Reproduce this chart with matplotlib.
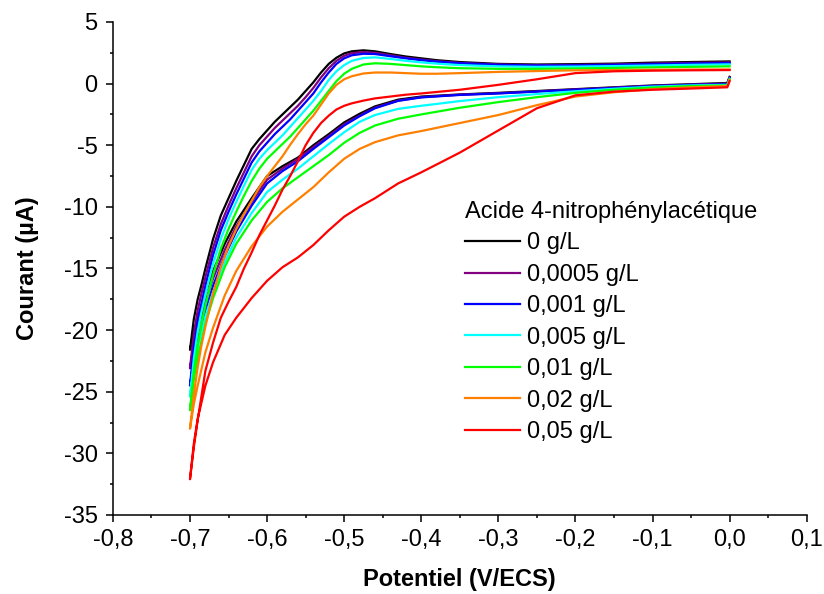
import numpy as np
import matplotlib
matplotlib.use("Agg")
import matplotlib.pyplot as plt
from matplotlib.ticker import MultipleLocator, FuncFormatter

plt.rcParams['font.family'] = ['Liberation Sans', 'DejaVu Sans']

# Potential grids (V/ECS)
x_retour = [-0.700, -0.695, -0.690, -0.685, -0.680, -0.670, -0.660, -0.650, -0.640, -0.630,
            -0.620, -0.610, -0.600, -0.590, -0.580, -0.570, -0.560, -0.550, -0.540, -0.530,
            -0.520, -0.510, -0.500, -0.490, -0.475, -0.460, -0.440, -0.420, -0.400, -0.380,
            -0.350, -0.300, -0.250, -0.200, -0.150, -0.100, -0.050, 0.000]
x_aller = [0.000, -0.003, -0.050, -0.100, -0.150, -0.200, -0.250, -0.300, -0.350, -0.400,
           -0.430, -0.460, -0.480, -0.500, -0.520, -0.540, -0.560, -0.580, -0.600, -0.620,
           -0.640, -0.655, -0.670, -0.680, -0.690, -0.695, -0.700]

labels = ["0 g/L", "0,0005 g/L", "0,001 g/L", "0,005 g/L", "0,01 g/L", "0,02 g/L", "0,05 g/L"]
couleurs = ["#000000", "#800080", "#0000FF", "#00FFFF", "#00FF00", "#FF8000", "#FF0000"]

# scan 0 -> -0.7 V (current, uA)
aller_0 = [0.55, 0.05, -0.05, -0.15, -0.3, -0.45, -0.6, -0.75, -0.88, -1.05, -1.3, -1.85, -2.45, -3.15,
           -4.1, -5.0, -6.0, -6.7, -7.5, -9.3, -11.2, -13.0, -15.2, -17.0, -19.0, -20.2, -21.6]
aller_00005 = [0.5, 0.0, -0.08, -0.18, -0.33, -0.48, -0.63, -0.78, -0.9, -1.1, -1.38, -1.95, -2.6, -3.3,
               -4.25, -5.15, -6.1, -6.9, -7.8, -9.6, -11.6, -13.5, -15.8, -17.7, -19.9, -21.3, -23.1]
aller_0001 = [0.45, -0.05, -0.1, -0.2, -0.35, -0.5, -0.65, -0.8, -0.92, -1.12, -1.4, -2.0, -2.65, -3.4,
              -4.35, -5.3, -6.3, -7.1, -8.1, -9.9, -12.0, -14.0, -16.4, -18.4, -20.8, -22.4, -24.5]
aller_0005 = [0.4, -0.1, -0.15, -0.25, -0.42, -0.62, -0.85, -1.1, -1.42, -1.8, -2.05, -2.55, -3.1, -3.95,
              -4.9, -5.9, -6.9, -7.8, -8.8, -10.5, -12.5, -14.5, -16.9, -18.9, -21.4, -23.1, -25.4]
aller_001 = [0.35, -0.15, -0.2, -0.32, -0.5, -0.75, -1.1, -1.5, -1.96, -2.5, -2.85, -3.4, -4.0, -4.8,
             -5.8, -6.7, -7.6, -8.5, -9.6, -11.1, -13.0, -14.9, -17.4, -19.5, -22.2, -24.0, -26.5]
aller_002 = [0.3, -0.2, -0.3, -0.45, -0.7, -1.05, -1.75, -2.55, -3.2, -3.85, -4.2, -4.75, -5.3, -6.1,
             -7.2, -8.4, -9.4, -10.4, -11.6, -13.2, -15.2, -17.2, -19.8, -21.8, -24.5, -26.0, -28.0]
aller_005 = [0.2, -0.3, -0.4, -0.5, -0.65, -0.95, -2.0, -3.8, -5.6, -7.2, -8.1, -9.3, -10.0, -10.8,
             -11.9, -13.1, -14.1, -14.9, -16.0, -17.4, -19.0, -20.4, -22.6, -24.5, -27.2, -29.2, -32.1]

# scan -0.7 -> 0 V
retour_0 = [-21.6, -19.1, -17.5, -16.3, -15.0, -12.6, -10.7, -9.3, -7.9, -6.6, -5.3, -4.5, -3.8, -3.1,
            -2.5, -1.9, -1.3, -0.6, 0.1, 0.9, 1.6, 2.1, 2.45, 2.62, 2.7, 2.62, 2.4, 2.2, 2.05, 1.9,
            1.75, 1.6, 1.55, 1.58, 1.62, 1.7, 1.75, 1.8]
retour_00005 = [-23.1, -20.3, -18.4, -17.0, -15.7, -13.3, -11.4, -9.9, -8.5, -7.2, -5.9, -5.0, -4.3, -3.6,
                -3.0, -2.4, -1.8, -1.1, -0.35, 0.5, 1.25, 1.85, 2.25, 2.47, 2.56, 2.5, 2.3, 2.1, 1.95, 1.82,
                1.68, 1.55, 1.5, 1.52, 1.56, 1.62, 1.68, 1.72]
retour_0001 = [-24.5, -21.4, -19.3, -17.8, -16.4, -13.9, -11.9, -10.4, -9.0, -7.7, -6.4, -5.5, -4.8, -4.1,
               -3.5, -2.9, -2.2, -1.5, -0.8, 0.1, 0.9, 1.6, 2.05, 2.3, 2.42, 2.4, 2.22, 2.05, 1.9, 1.78,
               1.65, 1.52, 1.47, 1.48, 1.52, 1.58, 1.63, 1.67]
retour_0005 = [-25.4, -22.3, -20.1, -18.5, -17.1, -14.6, -12.6, -11.0, -9.6, -8.3, -7.0, -6.1, -5.4, -4.8,
               -4.2, -3.5, -2.8, -2.1, -1.4, -0.6, 0.3, 1.0, 1.5, 1.85, 2.08, 2.13, 2.0, 1.85, 1.72, 1.62,
               1.5, 1.4, 1.36, 1.38, 1.42, 1.47, 1.52, 1.56]
retour_001 = [-26.5, -23.4, -21.2, -19.5, -18.0, -15.5, -13.4, -11.8, -10.4, -9.1, -7.9, -6.9, -6.1, -5.5,
              -4.9, -4.3, -3.6, -2.9, -2.2, -1.4, -0.6, 0.2, 0.8, 1.2, 1.55, 1.65, 1.6, 1.5, 1.4, 1.33,
              1.25, 1.2, 1.2, 1.23, 1.27, 1.32, 1.36, 1.4]
retour_002 = [-28.0, -25.2, -23.0, -21.2, -19.7, -17.0, -14.9, -13.2, -11.8, -10.6, -9.5, -8.4, -7.5, -6.7,
              -5.9, -4.96, -4.1, -3.3, -2.6, -1.7, -0.8, -0.1, 0.35, 0.6, 0.82, 0.9, 0.9, 0.85, 0.8, 0.8,
              0.85, 0.95, 1.02, 1.08, 1.1, 1.12, 1.14, 1.15]
retour_005 = [-32.1, -29.5, -27.3, -25.3, -23.3, -21.0, -19.0, -17.7, -16.5, -15.0, -13.7, -12.3, -11.1, -9.9,
              -8.6, -7.5, -6.3, -5.0, -4.0, -3.2, -2.6, -2.1, -1.8, -1.6, -1.38, -1.2, -1.05, -0.9, -0.8, -0.68,
              -0.5, -0.1, 0.35, 0.85, 1.0, 1.05, 1.08, 1.1]

allers = [aller_0, aller_00005, aller_0001, aller_0005, aller_001, aller_002, aller_005]
retours = [retour_0, retour_00005, retour_0001, retour_0005, retour_001, retour_002, retour_005]

fig = plt.figure(figsize=(8.24, 5.94), dpi=100)
ax = fig.add_axes([0.137, 0.133, 0.842, 0.830])

for aller, retour, lab, col in zip(allers, retours, labels, couleurs):
    x = np.concatenate([x_aller, x_retour])
    y = np.concatenate([aller, retour])
    ax.plot(x, y, color=col, lw=1.6, label=lab)

ax.set_xlim(-0.8, 0.1)
ax.set_ylim(-35, 5)
ax.xaxis.set_major_locator(MultipleLocator(0.1))
ax.xaxis.set_minor_locator(MultipleLocator(0.05))
ax.yaxis.set_major_locator(MultipleLocator(5))
ax.yaxis.set_minor_locator(MultipleLocator(2.5))
ax.xaxis.set_major_formatter(FuncFormatter(lambda v, p: ("%.1f" % v).replace(".", ",").replace("-0,0", "0,0")))
ax.yaxis.set_major_formatter(FuncFormatter(lambda v, p: "%d" % round(v)))

for s in ["top", "right"]:
    ax.spines[s].set_visible(False)
for s in ["left", "bottom"]:
    ax.spines[s].set_linewidth(1.1)
ax.tick_params(which="major", direction="out", length=5, width=1.1, labelsize=17)
ax.tick_params(which="minor", direction="out", length=2.5, width=1.1)
ax.tick_params(axis="x", which="major", pad=5)
ax.tick_params(axis="y", which="major", pad=6)

ax.set_xlabel("Potentiel (V/ECS)", fontsize=17, fontweight="bold", labelpad=12)
ax.set_ylabel("Courant (µA)", fontsize=17, fontweight="bold", labelpad=18)

leg = ax.legend(title="Acide 4-nitrophénylacétique", loc="upper left", bbox_to_anchor=(0.507, 0.637),
                frameon=False, fontsize=17, title_fontsize=17, handlelength=2.33, handletextpad=0.3,
                labelspacing=0.4, borderpad=0, borderaxespad=0, alignment="left")

fig.savefig("out.png", dpi=100)
